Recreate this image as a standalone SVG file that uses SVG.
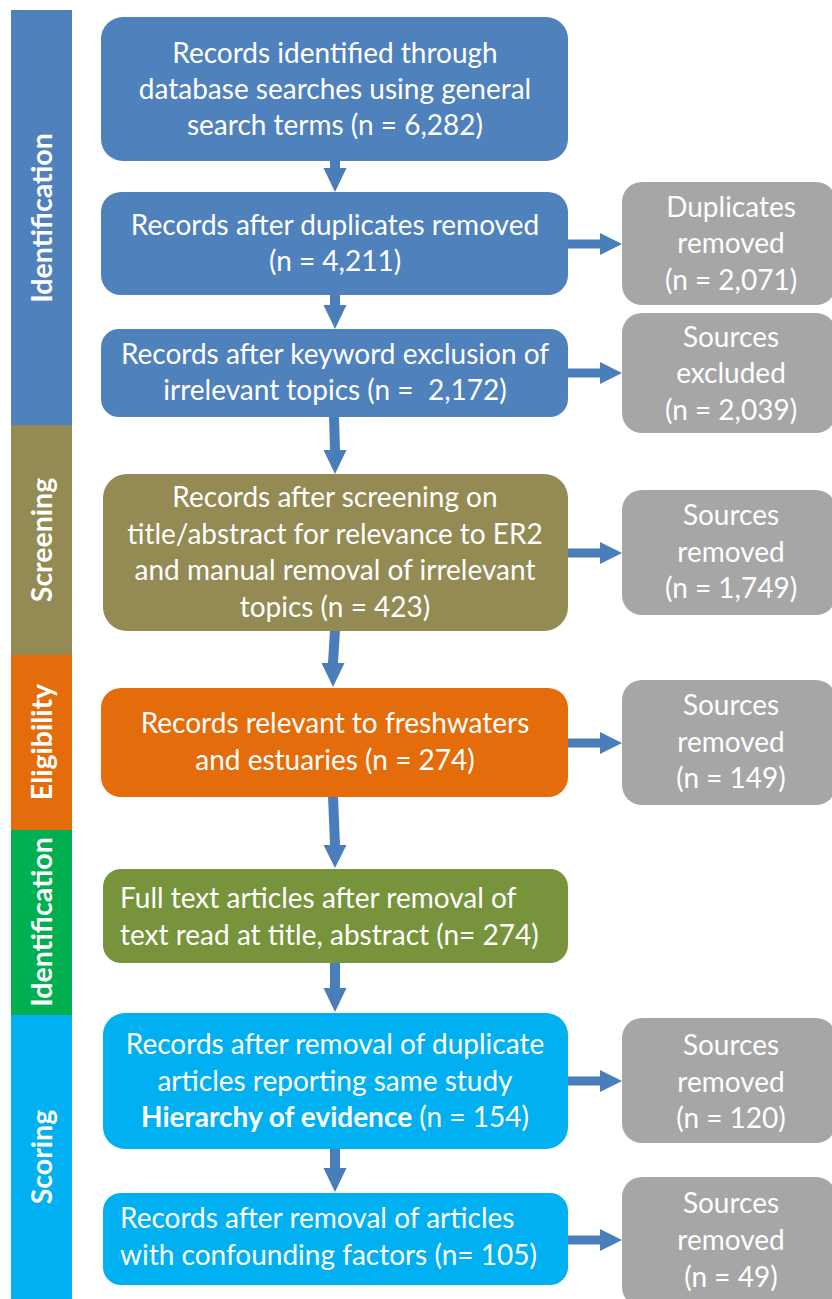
<svg xmlns="http://www.w3.org/2000/svg" width="832" height="1299" viewBox="0 0 832 1299">
<style>
.t{font-family:Lato,"Open Sans","Liberation Sans",sans-serif;font-size:28px;fill:#fff}
.c{text-anchor:middle}
.lab{font-family:Lato,"Open Sans","Liberation Sans",sans-serif;font-size:28.5px;font-weight:bold;fill:#fff;text-anchor:middle}
.gray{fill:#A6A6A6}
.arr{fill:#4A7EBB}
</style>
<rect width="832" height="1299" fill="#fff"/>
<g id="phases">
<g id="phase-identification"><rect x="11" y="10" width="61" height="415" fill="#4F81BD"/><text class="lab" transform="translate(52,218) rotate(-90)">Identification</text></g>
<g id="phase-screening"><rect x="11" y="425" width="61" height="230" fill="#948A54"/><text class="lab" transform="translate(52,540) rotate(-90)">Screening</text></g>
<g id="phase-eligibility"><rect x="11" y="655" width="61" height="175" fill="#E46C0A"/><text class="lab" transform="translate(52,742) rotate(-90)">Eligibility</text></g>
<g id="phase-identification2"><rect x="11" y="830" width="61" height="185" fill="#00B050"/><text class="lab" transform="translate(52,922) rotate(-90)">Identification</text></g>
<g id="phase-scoring"><rect x="11" y="1015" width="61" height="284" fill="#00B0F0"/><text class="lab" transform="translate(52,1157) rotate(-90)">Scoring</text></g>
</g>
<g id="connectors">
<path class="arr" d="M330 161 L340 161 L340 168 L346.5 168 L335 192 L323.5 168 L330 168 Z"/>
<path class="arr" d="M330 294 L340 294 L340 305 L346.5 305 L335 329 L323.5 305 L330 305 Z"/>
<path class="arr" d="M329 416 L339 416 L340 450 L346.5 450 L335 474 L323.5 450 L330 450 Z"/>
<path class="arr" d="M330 630 L340 630 L338 663 L344.5 663 L333 687 L321.5 663 L328 663 Z"/>
<path class="arr" d="M328 796 L338 796 L340 845 L346.5 845 L335 868 L323.5 845 L330 845 Z"/>
<path class="arr" d="M330 962 L340 962 L340 988 L346.5 988 L335 1012 L323.5 988 L330 988 Z"/>
<path class="arr" d="M330 1148 L340 1148 L340 1168 L346.5 1168 L335 1192 L323.5 1168 L330 1168 Z"/>
<path class="arr" d="M567 239.5 L600 239.5 L600 233 L622 244 L600 255 L600 248.5 L567 248.5 Z"/>
<path class="arr" d="M567 368.5 L600 368.5 L600 362 L622 373 L600 384 L600 377.5 L567 377.5 Z"/>
<path class="arr" d="M567 548.5 L600 548.5 L600 542 L622 553 L600 564 L600 557.5 L567 557.5 Z"/>
<path class="arr" d="M567 738.5 L600 738.5 L600 732 L622 743 L600 754 L600 747.5 L567 747.5 Z"/>
<path class="arr" d="M567 1076.5 L600 1076.5 L600 1070 L622 1081 L600 1092 L600 1085.5 L567 1085.5 Z"/>
<path class="arr" d="M567 1235.5 L600 1235.5 L600 1229 L622 1240 L600 1251 L600 1244.5 L567 1244.5 Z"/>
</g>
<g id="n1"><rect x="101" y="17" width="467" height="144" rx="22" fill="#4F81BD"/>
<text class="t c" x="335" y="63">Records identified through</text>
<text class="t c" x="335" y="99">database searches using general</text>
<text class="t c" x="335" y="135">search terms (n = 6,282)</text></g>
<g id="n2"><rect x="101" y="192" width="467" height="103" rx="20" fill="#4F81BD"/>
<text class="t c" x="335" y="235">Records after duplicates removed</text>
<text class="t c" x="335" y="271">(n = 4,211)</text></g>
<g id="n3"><rect x="101" y="329" width="467" height="88" rx="18" fill="#4F81BD"/>
<text class="t c" x="335" y="364">Records after keyword exclusion of</text>
<text class="t c" x="335" y="400" xml:space="preserve">irrelevant topics (n =  2,172)</text></g>
<g id="n4"><rect x="103" y="474" width="465" height="157" rx="24" fill="#948A54"/>
<text class="t c" x="335" y="507">Records after screening on</text>
<text class="t c" x="335" y="544">title/abstract for relevance to ER2</text>
<text class="t c" x="335" y="580">and manual removal of irrelevant</text>
<text class="t c" x="335" y="617">topics (n = 423)</text></g>
<g id="n5"><rect x="101" y="688" width="467" height="109" rx="20" fill="#E46C0A"/>
<text class="t c" x="335" y="733">Records relevant to freshwaters</text>
<text class="t c" x="335" y="770">and estuaries (n = 274)</text></g>
<g id="n6"><rect x="103" y="869" width="465" height="94" rx="18" fill="#77933C"/>
<text class="t" x="120" y="908">Full text articles after removal of</text>
<text class="t" x="120" y="945">text read at title, abstract (n= 274)</text></g>
<g id="n7"><rect x="103" y="1013" width="465" height="136" rx="22" fill="#00B0F0"/>
<text class="t c" x="335" y="1054">Records after removal of duplicate</text>
<text class="t c" x="335" y="1091">articles reporting same study</text>
<text class="t c" x="335" y="1127"><tspan font-weight="bold">Hierarchy of evidence</tspan> (n = 154)</text></g>
<g id="n8"><rect x="103" y="1193" width="465" height="92" rx="18" fill="#00B0F0"/>
<text class="t" x="120" y="1228">Records after removal of articles</text>
<text class="t" x="120" y="1265">with confounding factors (n= 105)</text></g>
<g id="g1"><rect class="gray" x="622" y="182" width="214" height="123" rx="20"/>
<text class="t c" x="731" y="217">Duplicates</text><text class="t c" x="731" y="253">removed</text><text class="t c" x="731" y="290">(n = 2,071)</text></g>
<g id="g2"><rect class="gray" x="622" y="313" width="214" height="120" rx="20"/>
<text class="t c" x="731" y="347">Sources</text><text class="t c" x="731" y="383">excluded</text><text class="t c" x="731" y="420">(n = 2,039)</text></g>
<g id="g3"><rect class="gray" x="622" y="490" width="214" height="125" rx="20"/>
<text class="t c" x="731" y="525">Sources</text><text class="t c" x="731" y="562">removed</text><text class="t c" x="731" y="598">(n = 1,749)</text></g>
<g id="g4"><rect class="gray" x="622" y="680" width="214" height="125" rx="20"/>
<text class="t c" x="731" y="715">Sources</text><text class="t c" x="731" y="752">removed</text><text class="t c" x="731" y="788">(n = 149)</text></g>
<g id="g5"><rect class="gray" x="622" y="1018" width="214" height="125" rx="20"/>
<text class="t c" x="731" y="1055">Sources</text><text class="t c" x="731" y="1092">removed</text><text class="t c" x="731" y="1128">(n = 120)</text></g>
<g id="g6"><rect class="gray" x="622" y="1177" width="214" height="130" rx="20"/>
<text class="t c" x="731" y="1213">Sources</text><text class="t c" x="731" y="1250">removed</text><text class="t c" x="731" y="1287">(n = 49)</text></g>
</svg>
